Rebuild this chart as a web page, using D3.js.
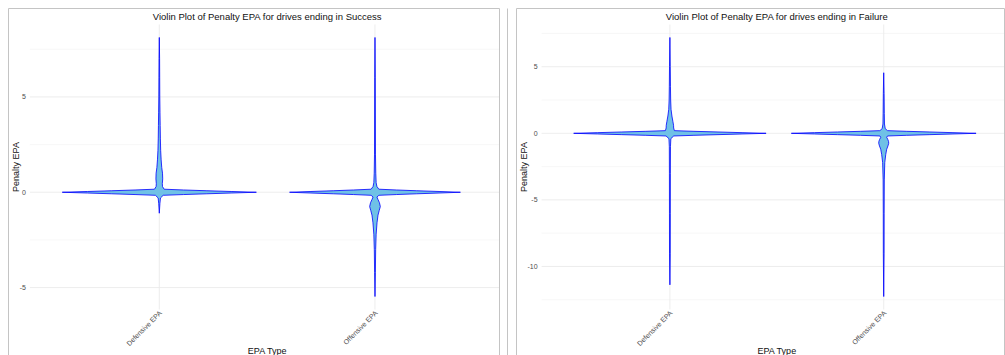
<!DOCTYPE html>
<html lang="en">
<head>
<meta charset="UTF-8">
<title>Violin Plot of Penalty EPA</title>
<script src="https://cdnjs.cloudflare.com/ajax/libs/d3/7.8.5/d3.min.js"></script>
<style>
  body { margin: 0; background: #fff; font-family: "Liberation Sans", Arial, sans-serif; }
  .frame { fill: none; stroke: #c4c4c4; stroke-width: 1; }
  .grid-major { stroke: #ebebeb; stroke-width: 0.9; }
  .grid-minor { stroke: #f4f4f4; stroke-width: 0.7; }
  .tick-label { font-size: 7px; fill: #4d4d4d; }
  .axis-title { font-size: 9px; fill: #111; }
  .plot-title { font-size: 9.5px; fill: #111; }
  .violin { fill: #6fc1e6; stroke: #0000ff; stroke-opacity: 0.8; stroke-width: 1; stroke-linejoin: round; }
</style>
</head>
<body>
<div id="chart"></div>
<script>
// categories on the x axis (same for both panels)
const categories = ["Defensive EPA", "Offensive EPA"];

// panel titles
const titleSuccess = "Violin Plot of Penalty EPA for drives ending in Success";
const titleFailure = "Violin Plot of Penalty EPA for drives ending in Failure";

// y tick labels
const ticksSuccess = [-5, 0, 5];
const ticksFailure = [-10, -5, 0, 5];

// violin outlines: EPA value and relative density (peak = 100)
const successDefValues  = [8.12, 7.0, 6.0, 5.0, 4.2, 3.5, 2.8, 2.2, 1.7, 1.3, 1.0, 0.7, 0.45, 0.3, 0.16, 0.12, 0.08, 0.04, 0, -0.04, -0.08, -0.12, -0.16, -0.3, -0.6, -1.1];
const successDefDensity = [0, 0.3, 0.4, 0.5, 0.7, 0.9, 1.1, 1.4, 1.9, 2.5, 3.3, 3.5, 3.1, 3.3, 5, 25, 49, 74, 100, 74, 49, 25, 4, 1.2, 0.6, 0];

const successOffValues  = [8.12, 6.0, 4.0, 2.0, 1.0, 0.5, 0.3, 0.16, 0.12, 0.08, 0.04, 0, -0.04, -0.08, -0.12, -0.16, -0.25, -0.38, -0.55, -0.75, -0.95, -1.2, -1.6, -2.2, -3.0, -4.2, -5.47];
const successOffDensity = [0, 0.3, 0.4, 0.5, 0.8, 1.2, 2.0, 4, 22, 43, 66, 88, 66, 43, 22, 4, 2, 3.1, 4.6, 5.5, 4.4, 3.1, 2.1, 1.2, 0.7, 0.4, 0];

const failureDefValues  = [7.2, 5.0, 3.5, 2.5, 1.8, 1.3, 0.9, 0.6, 0.4, 0.2, 0.15, 0.1, 0.05, 0, -0.05, -0.1, -0.15, -0.2, -0.4, -1.0, -3.0, -6.0, -9.0, -11.38];
const failureDefDensity = [0, 0.4, 0.6, 0.8, 1.2, 2.1, 3.1, 3.8, 3.9, 4.7, 25, 50, 75, 100, 75, 50, 25, 4, 1.0, 0.6, 0.5, 0.45, 0.4, 0];

const failureOffValues  = [4.55, 3.0, 1.5, 0.7, 0.35, 0.2, 0.15, 0.1, 0.05, 0, -0.05, -0.1, -0.15, -0.2, -0.3, -0.45, -0.6, -0.75, -0.95, -1.2, -1.6, -2.2, -3.5, -6.0, -9.0, -12.26];
const failureOffDensity = [0, 0.4, 0.6, 0.8, 1.6, 4, 24, 48, 72, 96, 72, 48, 24, 4, 3.1, 4.2, 5.0, 5.2, 4.4, 3.1, 2.1, 1.1, 0.6, 0.45, 0.4, 0];

const width = 1005, height = 355;

const svg = d3.select("#chart").append("svg")
    .attr("width", width)
    .attr("height", height);

function zip(values, density) {
    return values.map((v, i) => ({ v: v, d: density[i] }));
}

function drawPanel(opts) {
    const g = svg.append("g");

    g.append("clipPath").attr("id", opts.id + "-clip")
        .append("rect")
        .attr("x", opts.frame[0]).attr("y", opts.frame[1])
        .attr("width", opts.frame[2] - opts.frame[0])
        .attr("height", height - opts.frame[1] + 5);

    const inner = g.append("g").attr("clip-path", `url(#${opts.id}-clip)`);

    const x = d3.scalePoint()
        .domain(categories)
        .range([opts.x0, opts.x1])
        .padding(0.6);

    // y domain: data range plus 5% each side
    const allV = opts.series.flat().map(p => p.v);
    const lo = d3.min(allV), hi = d3.max(allV);
    const pad = (hi - lo) * 0.05;
    const y = d3.scaleLinear()
        .domain([lo - pad, hi + pad])
        .range([opts.bottom, opts.top]);

    const maxD = d3.max(opts.series.flat(), p => p.d);
    const w = d3.scaleLinear()
        .domain([0, maxD])
        .range([0, x.step() * 0.45]);

    // minor grid halfway between ticks
    const stepT = opts.ticks[1] - opts.ticks[0];
    const minor = [opts.ticks[0] - stepT / 2].concat(opts.ticks.map(t => t + stepT / 2));
    const [px0, px1] = [opts.x0, opts.x1];

    inner.selectAll(".grid-minor")
        .data(minor.filter(t => t >= y.domain()[0] && t <= y.domain()[1]))
        .enter().append("line")
        .attr("class", "grid-minor")
        .attr("x1", px0).attr("x2", px1)
        .attr("y1", d => y(d)).attr("y2", d => y(d));

    inner.selectAll(".grid-h")
        .data(opts.ticks)
        .enter().append("line")
        .attr("class", "grid-major")
        .attr("x1", px0).attr("x2", px1)
        .attr("y1", d => y(d)).attr("y2", d => y(d));

    inner.selectAll(".grid-v")
        .data(categories)
        .enter().append("line")
        .attr("class", "grid-major")
        .attr("x1", d => x(d)).attr("x2", d => x(d))
        .attr("y1", opts.top).attr("y2", opts.bottom);

    // violins
    opts.series.forEach((pts, i) => {
        const cx = x(categories[i]);
        const area = d3.area()
            .y(p => y(p.v))
            .x0(p => cx - w(p.d))
            .x1(p => cx + w(p.d))
            .curve(d3.curveLinear);
        inner.append("path")
            .attr("class", "violin")
            .attr("d", area(pts));
    });

    // y tick labels
    inner.selectAll(".ytick")
        .data(opts.ticks)
        .enter().append("text")
        .attr("class", "tick-label")
        .attr("x", px0 - 4)
        .attr("y", d => y(d))
        .attr("dy", "0.35em")
        .attr("text-anchor", "end")
        .text(d => String(d));

    // x tick labels, rotated 45 degrees
    inner.selectAll(".xtick")
        .data(categories)
        .enter().append("text")
        .attr("class", "tick-label")
        .attr("text-anchor", "end")
        .attr("transform", d => `translate(${x(d) + 3},${opts.bottom + 4}) rotate(-45)`)
        .text(d => d);

    const mid = (px0 + px1) / 2;
    inner.append("text")
        .attr("class", "plot-title")
        .attr("x", mid).attr("y", 19.5)
        .attr("text-anchor", "middle")
        .text(opts.title);

    inner.append("text")
        .attr("class", "axis-title")
        .attr("x", mid).attr("y", 354)
        .attr("text-anchor", "middle")
        .text("EPA Type");

    inner.append("text")
        .attr("class", "axis-title")
        .attr("transform", `translate(${opts.frame[0] + 10},${(opts.top + opts.bottom) / 2}) rotate(-90)`)
        .attr("text-anchor", "middle")
        .text("Penalty EPA");

    // frame
    g.append("path")
        .attr("class", "frame")
        .attr("d", `M${opts.frame[0]},${height + 2}V${opts.frame[1]}H${opts.frame[2]}V${height + 2}`);
}

drawPanel({
    id: "success",
    frame: [8.5, 8.5, 499.5],
    x0: 29.9, x1: 504.4,
    top: 24.5, bottom: 309.5,
    ticks: ticksSuccess,
    title: titleSuccess,
    series: [zip(successDefValues, successDefDensity), zip(successOffValues, successOffDensity)]
});

svg.append("line")
    .attr("class", "frame")
    .attr("x1", 507.5).attr("x2", 507.5)
    .attr("y1", 8.5).attr("y2", height);

drawPanel({
    id: "failure",
    frame: [516.5, 8.5, 1004.5],
    x0: 541.6, x1: 1012,
    top: 24.5, bottom: 309.5,
    ticks: ticksFailure,
    title: titleFailure,
    series: [zip(failureDefValues, failureDefDensity), zip(failureOffValues, failureOffDensity)]
});
</script>
</body>
</html>
